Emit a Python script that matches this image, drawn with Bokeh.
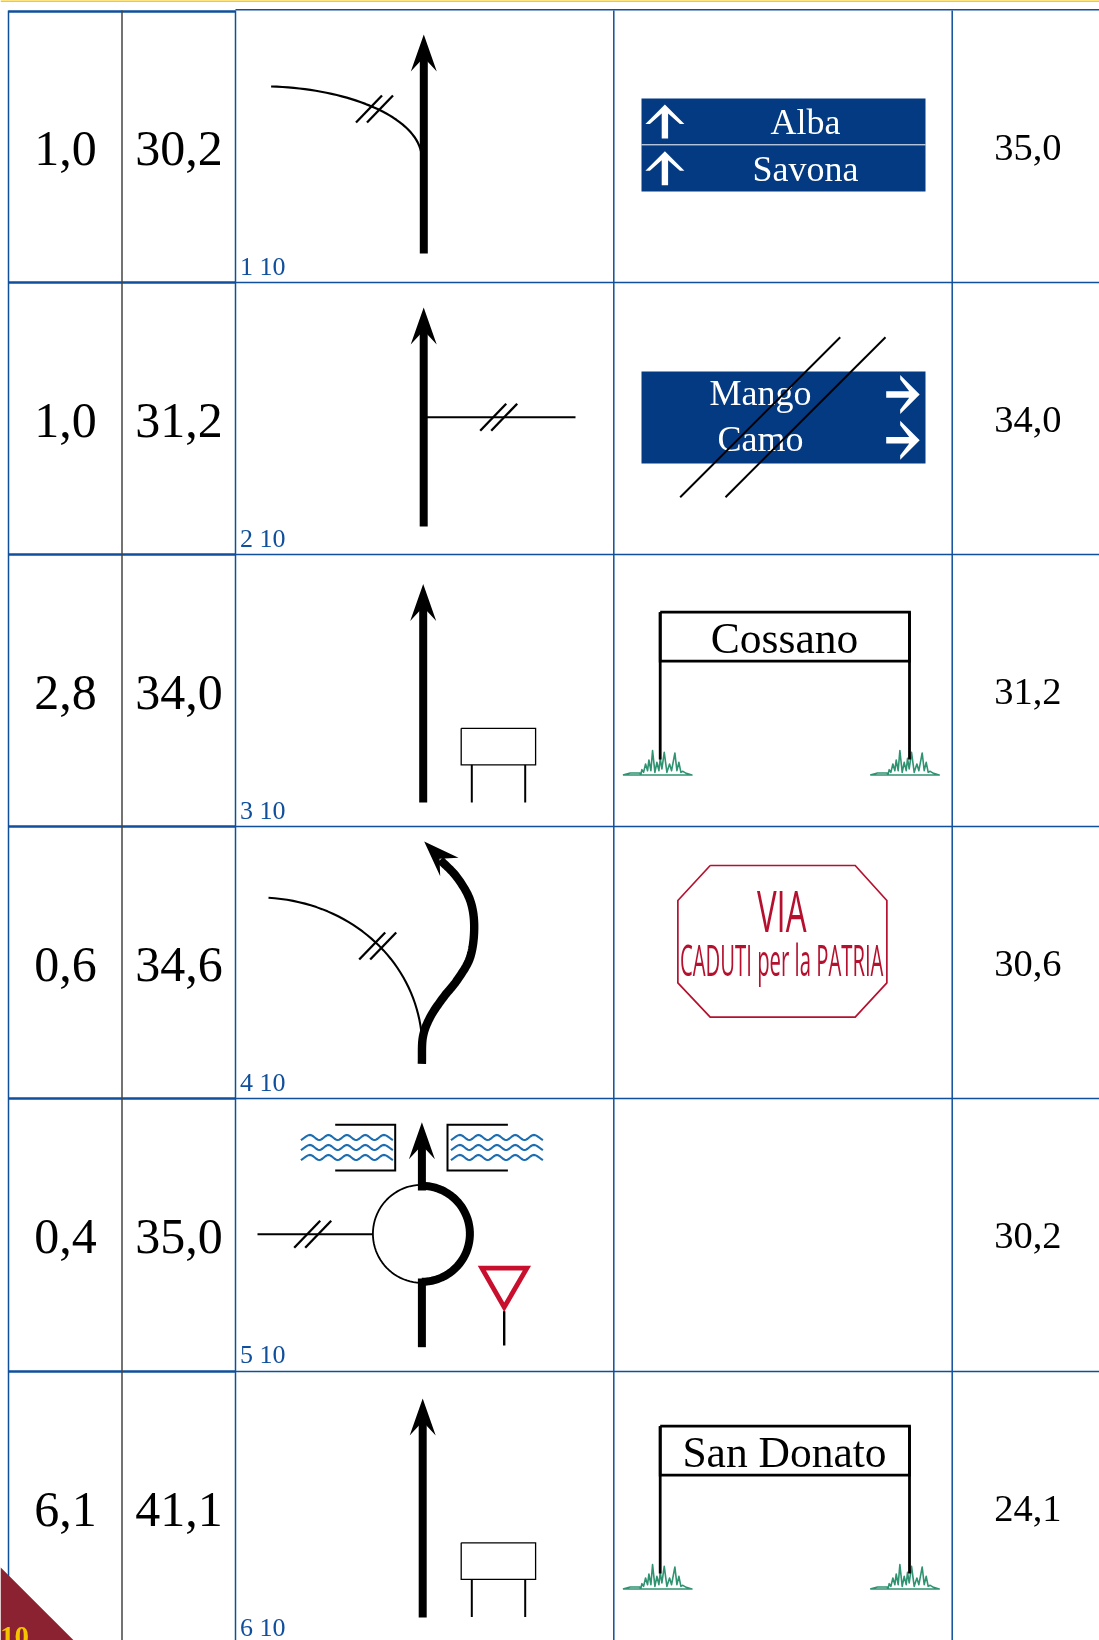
import numpy as np
from bokeh.plotting import figure, curdoc
from bokeh.embed import file_html
from bokeh.resources import INLINE
from bokeh.core.properties import value
from bokeh.models import CustomJS

# table content
partial = ["1,0", "1,0", "2,8", "0,6", "0,4", "6,1"]
total = ["30,2", "31,2", "34,0", "34,6", "35,0", "41,1"]
remaining = ["35,0", "34,0", "31,2", "30,6", "30,2", "24,1"]
step_tags = ["1 10", "2 10", "3 10", "4 10", "5 10", "6 10"]
sign_top = ["Alba", "Savona"]
sign_right = ["Mango", "Camo"]
town_signs = ["Cossano", "San Donato"]
via_sign = ["VIA", "CADUTI per la PATRIA"]
page_number = "10"

W, H = 1099, 1640
BLUE, DARK, SIGN, RED, GREEN, WATER = "#0f4f9c", "#444444", "#033a82", "#b5112f", "#2f9270", "#1c6db2"
SERIF = value("Liberation Serif")
SANS = value("Open Sans")

p = figure(width=W, height=H, x_range=(0, W), y_range=(H, 0), output_backend="svg",
           toolbar_location=None, min_border=0, background_fill_color="white",
           border_fill_color="white", outline_line_color=None)
p.axis.visible = False
p.grid.visible = False
p.styles = {"position": "fixed", "left": "0px", "top": "0px"}


def line(xs, ys, w=2, c="black", **kw):
    p.line(list(xs), list(ys), line_width=w, line_color=c, line_join=kw.pop("join", "round"), **kw)


def poly(xs, ys, fill="black", lc=None, w=0):
    p.patch(list(xs), list(ys), fill_color=fill, line_color=lc, line_width=w, line_join="miter")


def text(x, y, t, size, color="black", font=SERIF, align="center", style="normal"):
    p.text([x], [y + 1 - 0.365 * size], text=[t], text_font=font, text_font_size=f"{size}px", text_color=color,
           text_align=align, text_baseline="alphabetic", text_font_style=style)


def smooth(pts, n=14):
    P = np.array(pts, float)
    P = np.vstack([2 * P[0] - P[1], P, 2 * P[-1] - P[-2]])
    out = []
    for i in range(1, len(P) - 2):
        for t in np.linspace(0, 1, n, endpoint=False):
            a, b, c, d = P[i - 1], P[i], P[i + 1], P[i + 2]
            out.append(0.5 * (2 * b + (c - a) * t + (2 * a - 5 * b + 4 * c - d) * t ** 2 + (3 * b - a - 3 * c + d) * t ** 3))
    out.append(P[-2])
    out = np.array(out)
    return out[:, 0], out[:, 1]


def cubic(a, b, c, d, n=40):
    t = np.linspace(0, 1, n)[:, None]
    a, b, c, d = map(lambda v: np.array(v, float), (a, b, c, d))
    q = (1 - t) ** 3 * a + 3 * (1 - t) ** 2 * t * b + 3 * (1 - t) * t ** 2 * c + t ** 3 * d
    return q[:, 0], q[:, 1]


def up_arrow(x, tip, bottom):
    line([x, x], [tip + 22, bottom], 8)
    poly([x, x + 13, x, x - 13], [tip, tip + 37, tip + 23, tip + 37])


def hash_mark(x, y):
    for dx in (0, 11):
        line([x + dx - 13, x + dx + 13], [y + 13.5, y - 13.5], 2.3)


def sign_panel(y0, y1):
    poly([641, 925, 925, 641], [y0, y0, y1, y1], SIGN)


def white_up(x, y):
    dx = [0, 19.5, 15, 3.2, 3.2, -3.2, -3.2, -15, -19.5]
    dy = [0, 19.5, 19.5, 9, 34, 34, 9, 19.5, 19.5]
    poly([x + a for a in dx], [y + b for b in dy], "white")


def white_right(x, y):
    dx = [33.5, 14, 14, 23, 0, 0, 23, 14, 14]
    dy = [0, 19.5, 15, 3.2, 3.2, -3.2, -3.2, -15, -19.5]
    poly([x + a for a in dx], [y + b for b in dy], "white")


GRASS_X = [38, 60, 88, 92, 95, 100, 106, 112, 116, 122, 127, 134, 140, 146, 150, 155, 162, 170, 178, 184, 194, 200, 206, 212, 218, 228, 245, 38]
GRASS_Y = [163, 157, 157, 160, 147, 155, 130, 150, 118, 150, 90, 155, 125, 150, 113, 145, 95, 155, 130, 150, 97, 150, 125, 155, 152, 158, 163, 163]


def grass(x, y):
    line([x + (a - 38) / 3 for a in GRASS_X], [y + (b - 163) / 3 for b in GRASS_Y], 1.6, GREEN)


def town(dy, name):
    grass(622.4, 774.5 + dy)
    grass(869.7, 774.5 + dy)
    for x in (659.7, 909):
        line([x, x], [611.7 + dy, 759 + dy], 2.8)
    line([659.7, 909, 909, 659.7, 659.7], [611.7 + dy, 611.7 + dy, 660.7 + dy, 660.7 + dy, 611.7 + dy], 2.8, join="miter")
    text(784, 652.7 + dy, name, 43.5)


def small_board(dy):
    line([460.7, 535.1, 535.1, 460.7, 460.7], [727.8 + dy, 727.8 + dy, 764.4 + dy, 764.4 + dy, 727.8 + dy], 1.3, join="miter")
    for x in (471.3, 524.7):
        line([x, x], [764.4 + dy, 802 + dy], 2)


# grid
rows = [10, 282, 554, 826, 1098, 1371]
for i, y in enumerate(rows):
    ly = 11 if i == 0 else y
    line([8, 235], [ly, ly], 2.4, BLUE)
    line([235, W], [y - (0.7 if i == 0 else 0), y - (0.7 if i == 0 else 0)], 1.5, BLUE)
for x, c in ((8, BLUE), (121.5, DARK), (235, BLUE), (613.3, BLUE), (951.7, BLUE)):
    line([x, x], [10, H], 1.5, c)
line([0, W], [0.5, 0.5], 2, "#ffcc00")

# cell text
for i, y in enumerate(rows):
    text(65, y + 155, partial[i], 50)
    text(178.6, y + 155, total[i], 50)
    text(1027.4, y + 150.5, remaining[i], 38.5)
    text(239.5, y + 264, step_tags[i], 26, BLUE, align="left")

# row 1 diagram
xs, ys = cubic((270.6, 86), (345, 88), (415, 115), (421, 153.3))
line(xs, ys, 2.2)
hash_mark(368.5, 108.5)
up_arrow(423.3, 34, 253)
sign_panel(98, 191)
line([641, 925], [144.3, 144.3], 1, "white")
white_up(664.4, 104)
white_up(664.4, 150.7)
text(805, 134, sign_top[0], 36, "white")
text(805, 181, sign_top[1], 36, "white")

# row 2 diagram
up_arrow(423.2, 307, 526)
line([423.2, 575], [416.7, 416.7], 2)
hash_mark(492.7, 416.7)
sign_panel(371, 463)
white_right(885.7, 394)
white_right(885.7, 439.7)
text(760, 405, sign_right[0], 36, "white")
text(760, 450.7, sign_right[1], 36, "white")
line([679.7, 839.7], [496.7, 336.7], 2)
line([725, 885], [496.7, 336.7], 2)

# row 3 diagram
up_arrow(422.7, 583.5, 802)
small_board(0)
town(0, town_signs[0])

xs, ys = cubic((268, 897.3), (350, 902), (415, 960), (421.4, 1036.7))
line(xs, ys, 2.1)
b4 = [(575, 730), (578, 650), (600, 590), (640, 530), (680, 480), (720, 410), (732, 320), (720, 240), (680, 170), (630, 118)]
xs, ys = smooth([(229.7 + a / 3, 820 + b / 3) for a, b in b4])
line(xs, ys, 8.4)
poly([229.7 + a / 3 for a in (582, 685, 628, 630)], [820 + b / 3 for b in (63, 112, 115, 167)])
hash_mark(371.7, 945.5)
octa_x = [330, 765, 860, 860, 765, 330, 233, 233, 330]
octa_y = [855, 855, 960, 1207, 1310, 1310, 1207, 960, 855]
line([599.7 + a / 3 for a in octa_x], [580 + b / 3 for b in octa_y], 1.7, RED, join="miter")
text(781.2, 928.7, via_sign[0], 56, RED, SANS)
text(781, 973.7, via_sign[1], 43, RED, SANS)

# row 5 diagram
cx, cy = 421.4, 1233.3
ang = np.radians(np.arange(0, 361, 4))
line(cx + 49 * np.cos(ang), cy + 49 * np.sin(ang), 1.8)
ang = np.radians(np.arange(-90, 91, 4))
line(cx + 48 * np.cos(ang), cy + 48 * np.sin(ang), 8, join="round")
line([cx, cx], [1278, 1346.7], 8)
up_arrow(cx, 1121.7, 1190)
line([257, 372], [1233.7, 1233.7], 2)
hash_mark(306.7, 1233.7)
line([334.7, 394.7, 394.7, 334.7], [1124.3, 1124.3, 1170, 1170], 2, join="miter")
line([507.4, 447, 447, 507.4], [1124.3, 1124.3, 1170, 1170], 2, join="miter")
wave_dy = [1, -1, 1, -1, 1, -1, 1, -1, 1, -1, 1]
for x0 in (300.4, 450.4):
    for y0 in (1137, 1147, 1157):
        xs, ys = smooth([(x0 + k * 9.2, y0 + d * 2.6) for k, d in enumerate(wave_dy)], 6)
        line(xs, ys, 2.1, WATER)
tri_x = [229.7 + a / 3 for a in (755, 890, 822)]
tri_y = [1100 + b / 3 for b in (503, 503, 620)]
poly(tri_x, tri_y, "white", "#c8102e", 4.8)
line([229.7 + 822 / 3] * 2, [1100 + 632 / 3, 1100 + 735 / 3], 2.4)

# row 6 diagram
up_arrow(422.2, 1398, 1617)
small_board(814.5)
town(814, town_signs[1])

# page corner
poly([0, 73.3, 0], [1566.7, 1640, 1640], "#8a2232")
text(28.5, 1646, page_number, 29, "#f5c400", align="right", style="bold")

# the via sign is set in a very condensed face: narrow those two texts horizontally
squeeze = CustomJS(args=dict(widths={via_sign[0]: 50, via_sign[1]: 204}), code="""
function walk(root) {
  root.querySelectorAll('*').forEach((e) => {
    if (e.shadowRoot) walk(e.shadowRoot);
    if (e.tagName === 'text' && widths[e.textContent] !== undefined && !e.dataset.sq) {
      const b = e.getBBox();
      const c = b.x + b.width / 2;
      const s = widths[e.textContent] / b.width;
      const t = e.getAttribute('transform') || '';
      e.setAttribute('transform', t + ' translate(' + c + ',0) scale(' + s + ',1) translate(' + (-c) + ',0)');
      e.dataset.sq = '1';
    }
  });
}
[0, 50, 200, 500, 1000].forEach((d) => setTimeout(() => walk(document), d));
""")
doc = curdoc()
doc.add_root(p)
doc.js_on_event("document_ready", squeeze)

open("out.html", "w").write(file_html(p, INLINE))
